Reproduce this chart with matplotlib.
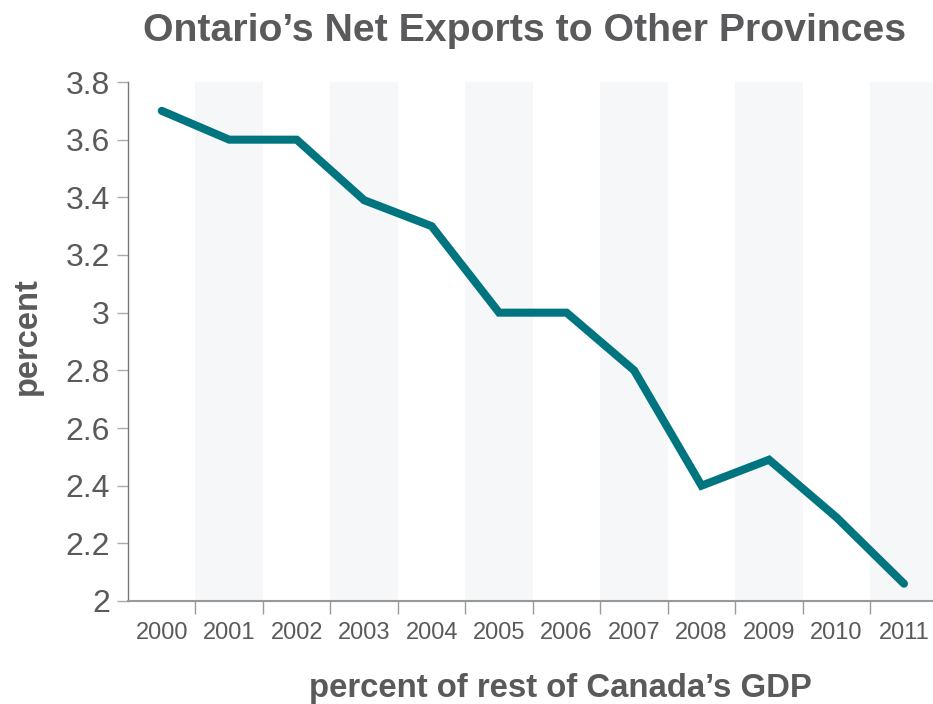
import numpy as np
import matplotlib
matplotlib.use("Agg")
import matplotlib.pyplot as plt

# Ontario net exports to other provinces, percent of rest of Canada's GDP
years = ["2000", "2001", "2002", "2003", "2004", "2005",
         "2006", "2007", "2008", "2009", "2010", "2011"]
net_exports = [3.70, 3.60, 3.60, 3.39, 3.30, 3.00,
               3.00, 2.80, 2.40, 2.49, 2.29, 2.06]
y_ticks = [2.0, 2.2, 2.4, 2.6, 2.8, 3.0, 3.2, 3.4, 3.6, 3.8]
y_tick_labels = ["2", "2.2", "2.4", "2.6", "2.8", "3", "3.2", "3.4", "3.6", "3.8"]

TEXT = "#5a5a5c"
LINE = "#00757f"
BAND = "#f5f7f9"

plt.rcParams["font.family"] = ["Liberation Sans", "DejaVu Sans"]

W, H = 933, 704
fig = plt.figure(figsize=(W / 100, H / 100), dpi=100)
ax = fig.add_axes([128 / W, 1 - 601 / H, (W - 128) / W, (601 - 82) / H])

x = np.arange(len(years))

# alternating column bands
for i in x:
    if i % 2 == 1:
        ax.axvspan(i - 0.5, i + 0.5, color=BAND, lw=0, zorder=0)

ax.plot(x, net_exports, color=LINE, lw=5.8,
        solid_capstyle="round", solid_joinstyle="miter", zorder=3)

ax.set_xlim(-0.5, 11.43)
ax.set_ylim(2.0, 3.8)

ax.set_yticks(y_ticks)
ax.set_yticklabels(y_tick_labels)
ax.tick_params(axis="y", length=8, width=1, color="#aaaaaa",
               labelsize=23, labelcolor=TEXT, pad=5)

ax.set_xticks(x)
ax.set_xticklabels(years)
ax.set_xticks(x[:-1] + 0.5, minor=True)
ax.tick_params(axis="x", which="major", length=0, labelsize=17,
               labelcolor=TEXT, pad=15)
ax.tick_params(axis="x", which="minor", length=9, width=1, color="#999999")

for side in ("top", "right"):
    ax.spines[side].set_visible(False)
ax.spines["left"].set_color("#777777")
ax.spines["left"].set_linewidth(1)
ax.spines["bottom"].set_color("#999999")
ax.spines["bottom"].set_linewidth(1.5)

fig.text(525 / W, 1 - 41 / H, "Ontario’s Net Exports to Other Provinces",
         ha="center", va="baseline", fontsize=28.3, fontweight="bold", color=TEXT)
fig.text(27 / W, 1 - 336 / H, "percent", rotation=90,
         ha="center", va="center", fontsize=23.5, fontweight="bold", color=TEXT)
fig.text(560 / W, 1 - 688 / H, "percent of rest of Canada’s GDP",
         ha="center", va="center", fontsize=23.7, fontweight="bold", color=TEXT)

fig.savefig("out.png", dpi=100, facecolor="white")
